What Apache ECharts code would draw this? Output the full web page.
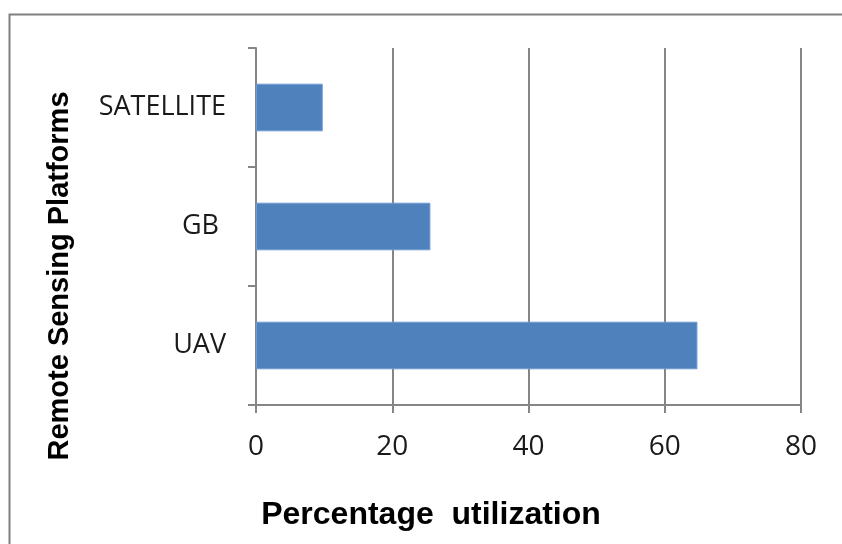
<!DOCTYPE html>
<html>
<head>
<meta charset="utf-8">
<script src="https://cdn.jsdelivr.net/npm/echarts@6/dist/echarts.min.js"></script>
<style>
  html, body { margin: 0; padding: 0; background: #fff; }
  #chart { width: 842px; height: 544px; }
</style>
</head>
<body>
<div id="chart"></div>
<script>
// platforms, bottom to top as in the picture
var platforms = ["UAV", "GB ", "SATELLITE"];
var utilization = [64.8, 25.6, 9.8];
var xTicks = [0, 20, 40, 60, 80];

var axisGray = "#868686";
var chart = echarts.init(document.getElementById("chart"));

var option = {
  backgroundColor: "#ffffff",
  animation: false,
  grid: {
    left: 256,
    right: 41,
    top: 48,
    bottom: 139
  },
  xAxis: {
    type: "value",
    min: xTicks[0],
    max: xTicks[xTicks.length - 1],
    interval: 20,
    axisLine: { show: true, lineStyle: { color: axisGray, width: 2 } },
    axisTick: { show: true, length: 8, lineStyle: { color: axisGray, width: 2 } },
    splitLine: { show: true, lineStyle: { color: axisGray, width: 2 } },
    axisLabel: {
      margin: 28,
      fontFamily: "Open Sans",
      fontSize: 28,
      color: "#1a1a1a"
    }
  },
  yAxis: {
    type: "category",
    data: platforms,
    axisLine: { show: true, lineStyle: { color: axisGray, width: 2 } },
    axisTick: { show: true, length: 8, lineStyle: { color: axisGray, width: 2 } },
    axisLabel: {
      margin: 30,
      fontFamily: "Open Sans",
      fontSize: 27,
      color: "#1a1a1a"
    }
  },
  series: [
    {
      type: "bar",
      data: utilization,
      barWidth: "40%",
      itemStyle: {
        color: "#4F81BD",
        borderColor: "#6f9bd0",
        borderWidth: 1
      }
    }
  ],
  graphic: [
    {
      type: "rect",
      left: 7,
      top: 12,
      shape: { width: 900, height: 600 },
      style: { fill: null, stroke: "#808080", lineWidth: 2 },
      silent: true
    },
    {
      type: "text",
      x: 60,
      y: 276,
      rotation: Math.PI / 2,
      style: {
        text: "Remote Sensing Platforms",
        fontFamily: "Liberation Sans",
        fontWeight: "bold",
        fontSize: 29,
        fill: "#000",
        align: "center",
        verticalAlign: "middle"
      }
    },
    {
      type: "text",
      x: 431,
      y: 515,
      style: {
        text: "Percentage  utilization",
        fontFamily: "Liberation Sans",
        fontWeight: "bold",
        fontSize: 32,
        fill: "#000",
        align: "center",
        verticalAlign: "middle"
      }
    }
  ]
};

chart.setOption(option);
</script>
</body>
</html>
